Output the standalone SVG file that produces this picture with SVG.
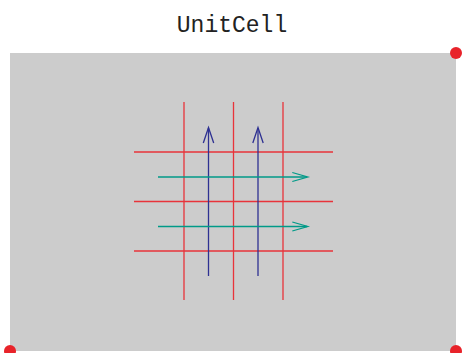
<svg xmlns="http://www.w3.org/2000/svg" width="462" height="353" viewBox="0 0 462 353">
<style>
.title{font-family:"Liberation Mono","Courier New",monospace;font-size:23px;fill:#222}
.grid{stroke:#e8333a;stroke-width:1.3;fill:none}
.up{stroke:#2e3192;stroke-width:1.3;fill:none}
.right{stroke:#009a88;stroke-width:1.3;fill:none}
.dot{fill:#e8232a}
</style>
<rect x="0" y="0" width="462" height="353" fill="#ffffff"/>
<text class="title" x="232" y="32" text-anchor="middle">UnitCell</text>
<g id="cell">
<rect x="10" y="53" width="446" height="298" fill="#cccccc"/>
</g>
<g id="connectors">
<line class="grid" x1="184" y1="102" x2="184" y2="300"/>
<line class="grid" x1="233.5" y1="102" x2="233.5" y2="300"/>
<line class="grid" x1="283" y1="102" x2="283" y2="300"/>
<line class="grid" x1="134" y1="152" x2="333" y2="152"/>
<line class="grid" x1="134" y1="201.5" x2="333" y2="201.5"/>
<line class="grid" x1="134" y1="251" x2="333" y2="251"/>
<line class="up" x1="208.5" y1="276" x2="208.5" y2="128"/>
<polyline class="up" points="203.3,143 208.5,127.5 213.7,143"/>
<line class="up" x1="258" y1="276" x2="258" y2="128"/>
<polyline class="up" points="252.8,143 258,127.5 263.2,143"/>
<line class="right" x1="158" y1="177" x2="307" y2="177"/>
<polyline class="right" points="292.3,172.5 307.7,177 292.3,181.5"/>
<line class="right" x1="158" y1="226.5" x2="307" y2="226.5"/>
<polyline class="right" points="292.3,222 307.7,226.5 292.3,231"/>
</g>
<g id="corners">
<circle class="dot" cx="456" cy="53" r="6"/>
<circle class="dot" cx="10" cy="351" r="6"/>
<circle class="dot" cx="456" cy="351" r="6"/>
</g>
</svg>
